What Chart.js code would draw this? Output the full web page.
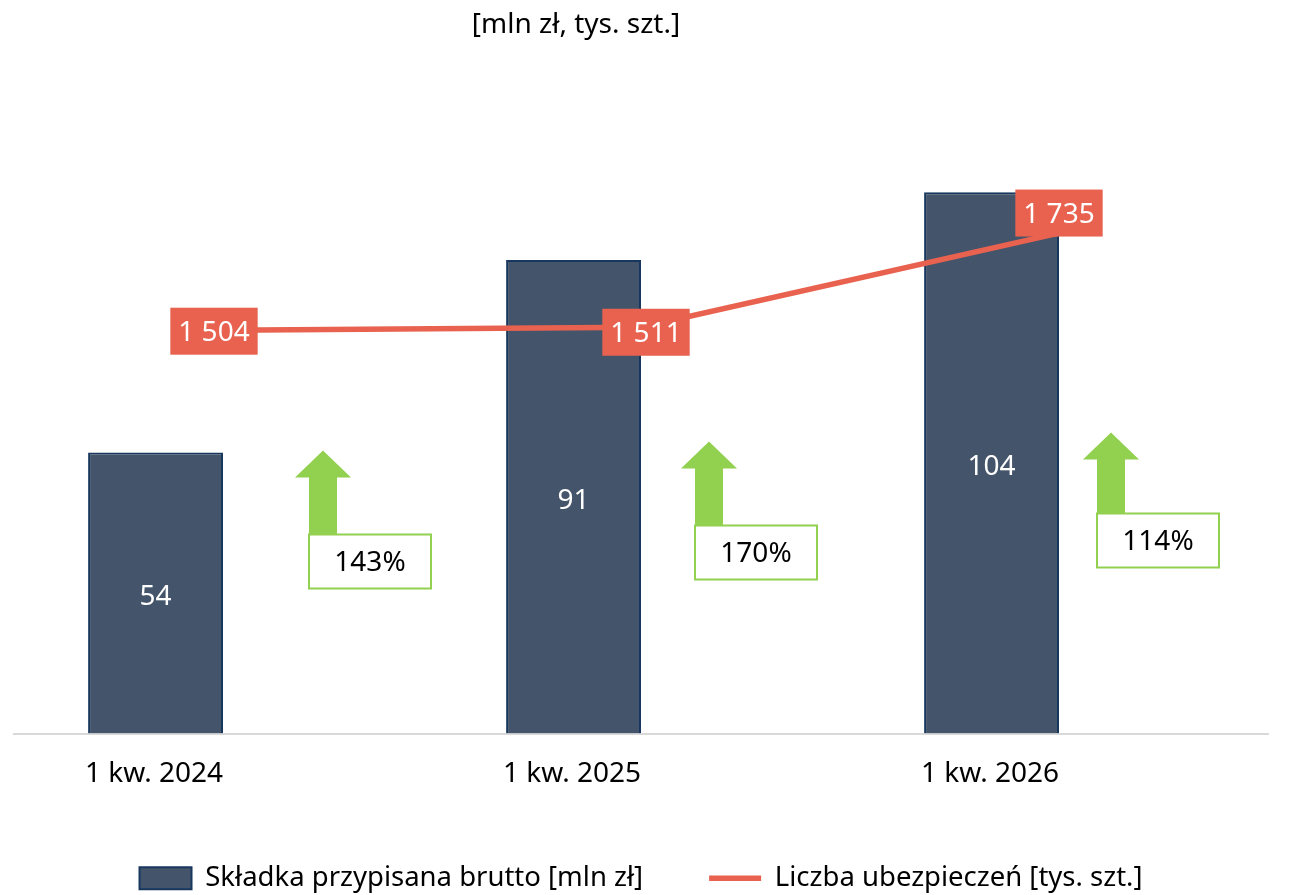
<!DOCTYPE html>
<html lang="pl">
<head>
<meta charset="utf-8">
<title>Składka przypisana brutto i liczba ubezpieczeń</title>
<script src="https://cdn.jsdelivr.net/npm/chart.js@4.4.1/dist/chart.umd.min.js"></script>
<style>
  html, body { margin: 0; padding: 0; background: #fff; }
  #wrap { position: relative; width: 1304px; height: 895px; }
</style>
</head>
<body>
<div id="wrap"><canvas id="chart" width="1304" height="895"></canvas></div>
<script>
// dane
const categories = ['1 kw. 2024', '1 kw. 2025', '1 kw. 2026'];
const premiumValues = [54, 91, 104];        // składka przypisana brutto [mln zł]
const policyCounts = [1504, 1511, 1735];    // liczba ubezpieczeń [tys. szt.]
const growthLabels = ['143%', '170%', '114%'];

const FONT = '"Noto Sans", "Open Sans", sans-serif';
const FONT_SIZE = 28;
const BAR_COLOR = '#44546A';
const BAR_BORDER = '#17375E';
const LINE_COLOR = '#E8624F';
const GREEN = '#92D050';

// przesunięcia etykiet linii względem punktów
const lineLabelShift = [{ dx: -9, dy: 1 }, { dx: 5, dy: 5 }, { dx: 0, dy: -20 }];
// strzałki: środek względem środka kategorii, wysokości nad osią
const arrowLayout = [
  { dx: 100, top: 283, boxTop: 199 },
  { dx: 68, top: 292, boxTop: 208 },
  { dx: 52, top: 301, boxTop: 220 }
];

function fmt(v) {
  return String(v).replace(/\B(?=(\d{3})+(?!\d))/g, ' ');
}

const overlayPlugin = {
  id: 'overlay',
  afterDatasetsDraw(chart) {
    const { ctx, chartArea } = chart;
    const xs = chart.scales.x;
    ctx.save();
    ctx.font = `${FONT_SIZE}px ${FONT}`;
    ctx.textAlign = 'center';
    ctx.textBaseline = 'middle';

    // wartości w słupkach
    ctx.fillStyle = '#fff';
    chart.getDatasetMeta(0).data.forEach((bar, i) => {
      ctx.fillText(String(premiumValues[i]), bar.x, (bar.y + bar.base) / 2 + 4);
    });

    // etykiety linii
    chart.getDatasetMeta(2).data.forEach((pt, i) => {
      const txt = fmt(policyCounts[i]);
      const w = ctx.measureText(txt).width + 16;
      const h = 47;
      const cx = pt.x + lineLabelShift[i].dx;
      const cy = pt.y + lineLabelShift[i].dy;
      ctx.fillStyle = LINE_COLOR;
      ctx.fillRect(cx - w / 2, cy - h / 2, w, h);
      ctx.fillStyle = '#fff';
      ctx.fillText(txt, cx, cy + 2);
    });

    // strzałki i dynamika
    const base = chartArea.bottom;
    arrowLayout.forEach((a, i) => {
      const cx = xs.getPixelForValue(i) + a.dx;
      const top = base - a.top;
      const boxTop = base - a.boxTop;
      const headW = 56, headH = 27, shaftW = 28;
      ctx.fillStyle = GREEN;
      ctx.beginPath();
      ctx.moveTo(cx, top);
      ctx.lineTo(cx + headW / 2, top + headH);
      ctx.lineTo(cx + shaftW / 2, top + headH);
      ctx.lineTo(cx + shaftW / 2, boxTop);
      ctx.lineTo(cx - shaftW / 2, boxTop);
      ctx.lineTo(cx - shaftW / 2, top + headH);
      ctx.lineTo(cx - headW / 2, top + headH);
      ctx.closePath();
      ctx.fill();

      const bx = cx - shaftW / 2, bw = 122, bh = 54;
      ctx.fillStyle = '#fff';
      ctx.fillRect(bx, boxTop, bw, bh);
      ctx.strokeStyle = GREEN;
      ctx.lineWidth = 2;
      ctx.strokeRect(bx, boxTop, bw, bh);
      ctx.fillStyle = '#000';
      ctx.fillText(growthLabels[i], bx + bw / 2, boxTop + bh / 2 + 2);
    });
    ctx.restore();
  },
  afterDraw(chart) {
    const { ctx } = chart;
    ctx.save();
    ctx.font = `${FONT_SIZE}px ${FONT}`;
    ctx.fillStyle = '#000';
    ctx.textAlign = 'center';
    ctx.textBaseline = 'middle';
    ctx.fillText('[mln zł, tys. szt.]', 576, 25);
    ctx.restore();
  }
};

new Chart(document.getElementById('chart'), {
  data: {
    labels: categories,
    datasets: [
      {
        type: 'bar',
        label: 'Składka przypisana brutto [mln zł]',
        data: premiumValues,
        yAxisID: 'y',
        backgroundColor: BAR_COLOR,
        borderColor: BAR_BORDER,
        borderWidth: 2,
        borderSkipped: 'bottom',
        categoryPercentage: 0.6455,
        barPercentage: 1,
        order: 2
      },
      {
        // puste miejsce obok słupka (na strzałkę)
        type: 'bar',
        label: '',
        data: [null, null, null],
        yAxisID: 'y',
        categoryPercentage: 0.6455,
        barPercentage: 1,
        order: 3
      },
      {
        type: 'line',
        label: 'Liczba ubezpieczeń [tys. szt.]',
        data: policyCounts,
        yAxisID: 'y2',
        borderColor: LINE_COLOR,
        backgroundColor: LINE_COLOR,
        borderWidth: 5.5,
        pointRadius: 0,
        tension: 0,
        order: 1
      }
    ]
  },
  options: {
    responsive: false,
    animation: false,
    layout: { padding: { top: 109, left: 14, right: 36, bottom: -7 } },
    scales: {
      x: {
        grid: { display: false, drawTicks: false },
        border: { display: true, color: '#D9D9D9', width: 2 },
        ticks: {
          color: '#000',
          font: { family: FONT, size: FONT_SIZE },
          padding: 24,
          labelOffset: -69
        },
        afterFit: (axis) => { axis.height = 65; }
      },
      y: { display: false, min: 0, max: 120 },
      y2: { display: false, min: 545, max: 2030 }
    },
    plugins: {
      tooltip: { enabled: false },
      legend: {
        position: 'bottom',
        labels: {
          usePointStyle: true,
          pointStyleWidth: 52,
          boxHeight: 22,
          padding: 66,
          color: '#000',
          font: { family: FONT, size: 27.5 },
          filter: (item) => item.datasetIndex !== 1,
          sort: (a, b) => a.datasetIndex - b.datasetIndex,
          generateLabels(chart) {
            const items = Chart.defaults.plugins.legend.labels.generateLabels(chart);
            items.forEach(it => { it.pointStyle = it.datasetIndex === 2 ? 'line' : 'rect'; });
            return items;
          }
        }
      }
    }
  },
  plugins: [overlayPlugin]
});
</script>
</body>
</html>
